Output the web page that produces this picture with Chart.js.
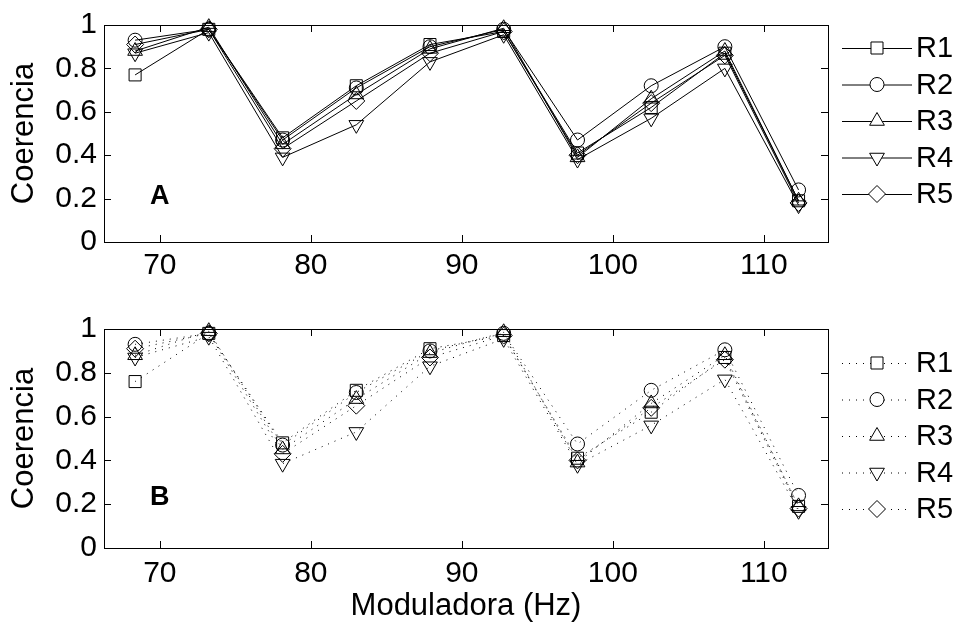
<!DOCTYPE html>
<html>
<head>
<meta charset="utf-8">
<script src="https://cdn.jsdelivr.net/npm/chart.js@4.4.1/dist/chart.umd.min.js"></script>
<style>
    html, body { margin: 0; padding: 0; background: #ffffff; }
    #wrap { position: relative; width: 964px; height: 628px; }
    #chartA { position: absolute; left: 0; top: 0; }
    #chartB { position: absolute; left: 0; top: 290px; }
</style>
</head>
<body>
<div id="wrap">
    <canvas id="chartA" width="964" height="290"></canvas>
    <canvas id="chartB" width="964" height="338"></canvas>
</div>
<script>
// modulation frequencies (Hz)
const freqs = [68.36, 73.24, 78.13, 83.01, 87.89, 92.77, 97.66, 102.54, 107.42, 112.30];
const seriesNames = ['R1', 'R2', 'R3', 'R4', 'R5'];
const xTicks = [70, 80, 90, 100, 110];
const yTicks = [0, 0.2, 0.4, 0.6, 0.8, 1];

// panel A (solid lines)
const aR1 = [0.77, 0.98, 0.48, 0.72, 0.91, 0.97, 0.41, 0.62, 0.87, 0.19];
const aR2 = [0.93, 0.98, 0.47, 0.71, 0.90, 0.98, 0.47, 0.72, 0.90, 0.24];
const aR3 = [0.88, 0.99, 0.45, 0.68, 0.89, 0.985, 0.39, 0.66, 0.88, 0.19];
const aR4 = [0.87, 0.965, 0.39, 0.54, 0.83, 0.955, 0.38, 0.57, 0.80, 0.17];
const aR5 = [0.91, 0.98, 0.43, 0.65, 0.87, 0.97, 0.40, 0.64, 0.86, 0.18];

// panel B (dotted lines)
const bR1 = [0.76, 0.98, 0.48, 0.72, 0.91, 0.97, 0.41, 0.62, 0.87, 0.19];
const bR2 = [0.93, 0.98, 0.47, 0.71, 0.90, 0.98, 0.475, 0.72, 0.905, 0.24];
const bR3 = [0.88, 0.99, 0.45, 0.68, 0.89, 0.985, 0.39, 0.66, 0.88, 0.19];
const bR4 = [0.87, 0.965, 0.385, 0.53, 0.83, 0.955, 0.38, 0.56, 0.77, 0.17];
const bR5 = [0.91, 0.98, 0.43, 0.65, 0.87, 0.97, 0.40, 0.64, 0.86, 0.18];

const markers = [
    { pointStyle: 'rect', radius: 8.5, rotation: 0 },
    { pointStyle: 'circle', radius: 7, rotation: 0 },
    { pointStyle: 'triangle', radius: 8.5, rotation: 0 },
    { pointStyle: 'triangle', radius: 8.5, rotation: 180 },
    { pointStyle: 'rectRot', radius: 8.5, rotation: 0 }
];

const FONT = 'Liberation Sans, Arial, Helvetica, sans-serif';

function makeDatasets(seriesList, dash) {
    return seriesList.map((values, i) => ({
        label: seriesNames[i],
        data: values.map((v, k) => ({ x: freqs[k], y: v })),
        borderColor: '#000000',
        borderWidth: 1,
        borderDash: dash,
        pointStyle: markers[i].pointStyle,
        pointRadius: markers[i].radius,
        pointRotation: markers[i].rotation,
        pointBorderColor: '#000000',
        pointBackgroundColor: 'rgba(0,0,0,0)',
        pointBorderWidth: 1,
        tension: 0,
        clip: false
    }));
}

// box around the plot with inward ticks on all four sides
const frameTicks = {
    id: 'frameTicks',
    afterDraw(chart) {
        const { ctx, chartArea: a, scales } = chart;
        const len = 7;
        ctx.save();
        ctx.strokeStyle = '#000000';
        ctx.lineWidth = 1;
        ctx.setLineDash([]);
        ctx.strokeRect(Math.round(a.left) + 0.5, Math.round(a.top) + 0.5,
            Math.round(a.right - a.left), Math.round(a.bottom - a.top));
        ctx.beginPath();
        xTicks.forEach(v => {
            const px = Math.round(scales.x.getPixelForValue(v)) + 0.5;
            ctx.moveTo(px, a.bottom);
            ctx.lineTo(px, a.bottom - len);
            ctx.moveTo(px, a.top);
            ctx.lineTo(px, a.top + len);
        });
        yTicks.forEach(v => {
            const py = Math.round(scales.y.getPixelForValue(v)) + 0.5;
            ctx.moveTo(a.left, py);
            ctx.lineTo(a.left + len, py);
            ctx.moveTo(a.right, py);
            ctx.lineTo(a.right - len, py);
        });
        ctx.stroke();
        ctx.restore();
    }
};

// legend outside the axes, line + marker + name
const sideLegend = {
    id: 'sideLegend',
    afterDraw(chart, args, opts) {
        const { ctx } = chart;
        ctx.save();
        chart.data.datasets.forEach((ds, i) => {
            const y = opts.top + i * opts.step;
            ctx.strokeStyle = '#000000';
            ctx.lineWidth = 1;
            ctx.setLineDash(ds.borderDash || []);
            ctx.beginPath();
            ctx.moveTo(842, y + 0.5);
            ctx.lineTo(912, y + 0.5);
            ctx.stroke();
            ctx.setLineDash([]);
            ctx.fillStyle = '#ffffff';
            Chart.helpers.drawPoint(ctx, {
                pointStyle: ds.pointStyle,
                radius: ds.pointRadius,
                rotation: ds.pointRotation,
                borderWidth: 1
            }, 877, y);
            ctx.fillStyle = '#000000';
            ctx.font = '29px ' + FONT;
            ctx.textAlign = 'left';
            ctx.textBaseline = 'middle';
            ctx.fillText(ds.label, 916, y + 1);
        });
        ctx.restore();
    }
};

// bold panel letter
const panelLetter = {
    id: 'panelLetter',
    afterDraw(chart, args, opts) {
        const { ctx, scales } = chart;
        ctx.save();
        ctx.fillStyle = '#000000';
        ctx.font = 'bold 27px ' + FONT;
        ctx.textAlign = 'center';
        ctx.textBaseline = 'middle';
        ctx.fillText(opts.text, scales.x.getPixelForValue(70), scales.y.getPixelForValue(opts.y));
        ctx.restore();
    }
};

function buildChart(id, datasets, opts) {
    const ctx = document.getElementById(id).getContext('2d');
    return new Chart(ctx, {
        type: 'line',
        data: { datasets: datasets },
        options: {
            responsive: false,
            animation: false,
            layout: {
                autoPadding: false,
                padding: { left: 0, right: 136, top: opts.top, bottom: 0 }
            },
            plugins: {
                legend: { display: false },
                tooltip: { enabled: false },
                sideLegend: { top: opts.legendTop, step: 36.5 },
                panelLetter: { text: opts.letter, y: opts.letterY }
            },
            scales: {
                x: {
                    type: 'linear',
                    min: 66.3,
                    max: 114.25,
                    grid: { display: false, drawTicks: false },
                    border: { display: false },
                    afterBuildTicks: (scale) => { scale.ticks = xTicks.map(v => ({ value: v })); },
                    afterFit: (scale) => { scale.height = opts.xHeight; },
                    ticks: {
                        color: '#000000',
                        padding: opts.xPad,
                        maxRotation: 0,
                        font: { family: FONT, size: 30 },
                        callback: (v) => String(v)
                    },
                    title: {
                        display: opts.showXTitle,
                        text: 'Moduladora (Hz)',
                        color: '#000000',
                        font: { family: FONT, size: 31 },
                        padding: { top: 0, bottom: 3 }
                    }
                },
                y: {
                    type: 'linear',
                    min: 0,
                    max: 1,
                    grid: { display: false, drawTicks: false },
                    border: { display: false },
                    afterBuildTicks: (scale) => { scale.ticks = yTicks.map(v => ({ value: v })); },
                    afterFit: (scale) => { scale.width = 104; },
                    ticks: {
                        color: '#000000',
                        padding: 7,
                        font: { family: FONT, size: 30 },
                        callback: (v) => String(Math.round(v * 10) / 10)
                    },
                    title: {
                        display: true,
                        text: 'Coerencia',
                        color: '#000000',
                        font: { family: FONT, size: 31 },
                        padding: { top: 6, bottom: 0 }
                    }
                }
            }
        },
        plugins: [frameTicks, sideLegend, panelLetter]
    });
}

buildChart('chartA', makeDatasets([aR1, aR2, aR3, aR4, aR5], []), {
    top: 19, xHeight: 48, xPad: 6, showXTitle: false,
    legendTop: 48, letter: 'A', letterY: 0.21
});

buildChart('chartB', makeDatasets([bR1, bR2, bR3, bR4, bR5], [1, 6]), {
    top: 39, xHeight: 80, xPad: 8, showXTitle: true,
    legendTop: 73, letter: 'B', letterY: 0.23
});
</script>
</body>
</html>
